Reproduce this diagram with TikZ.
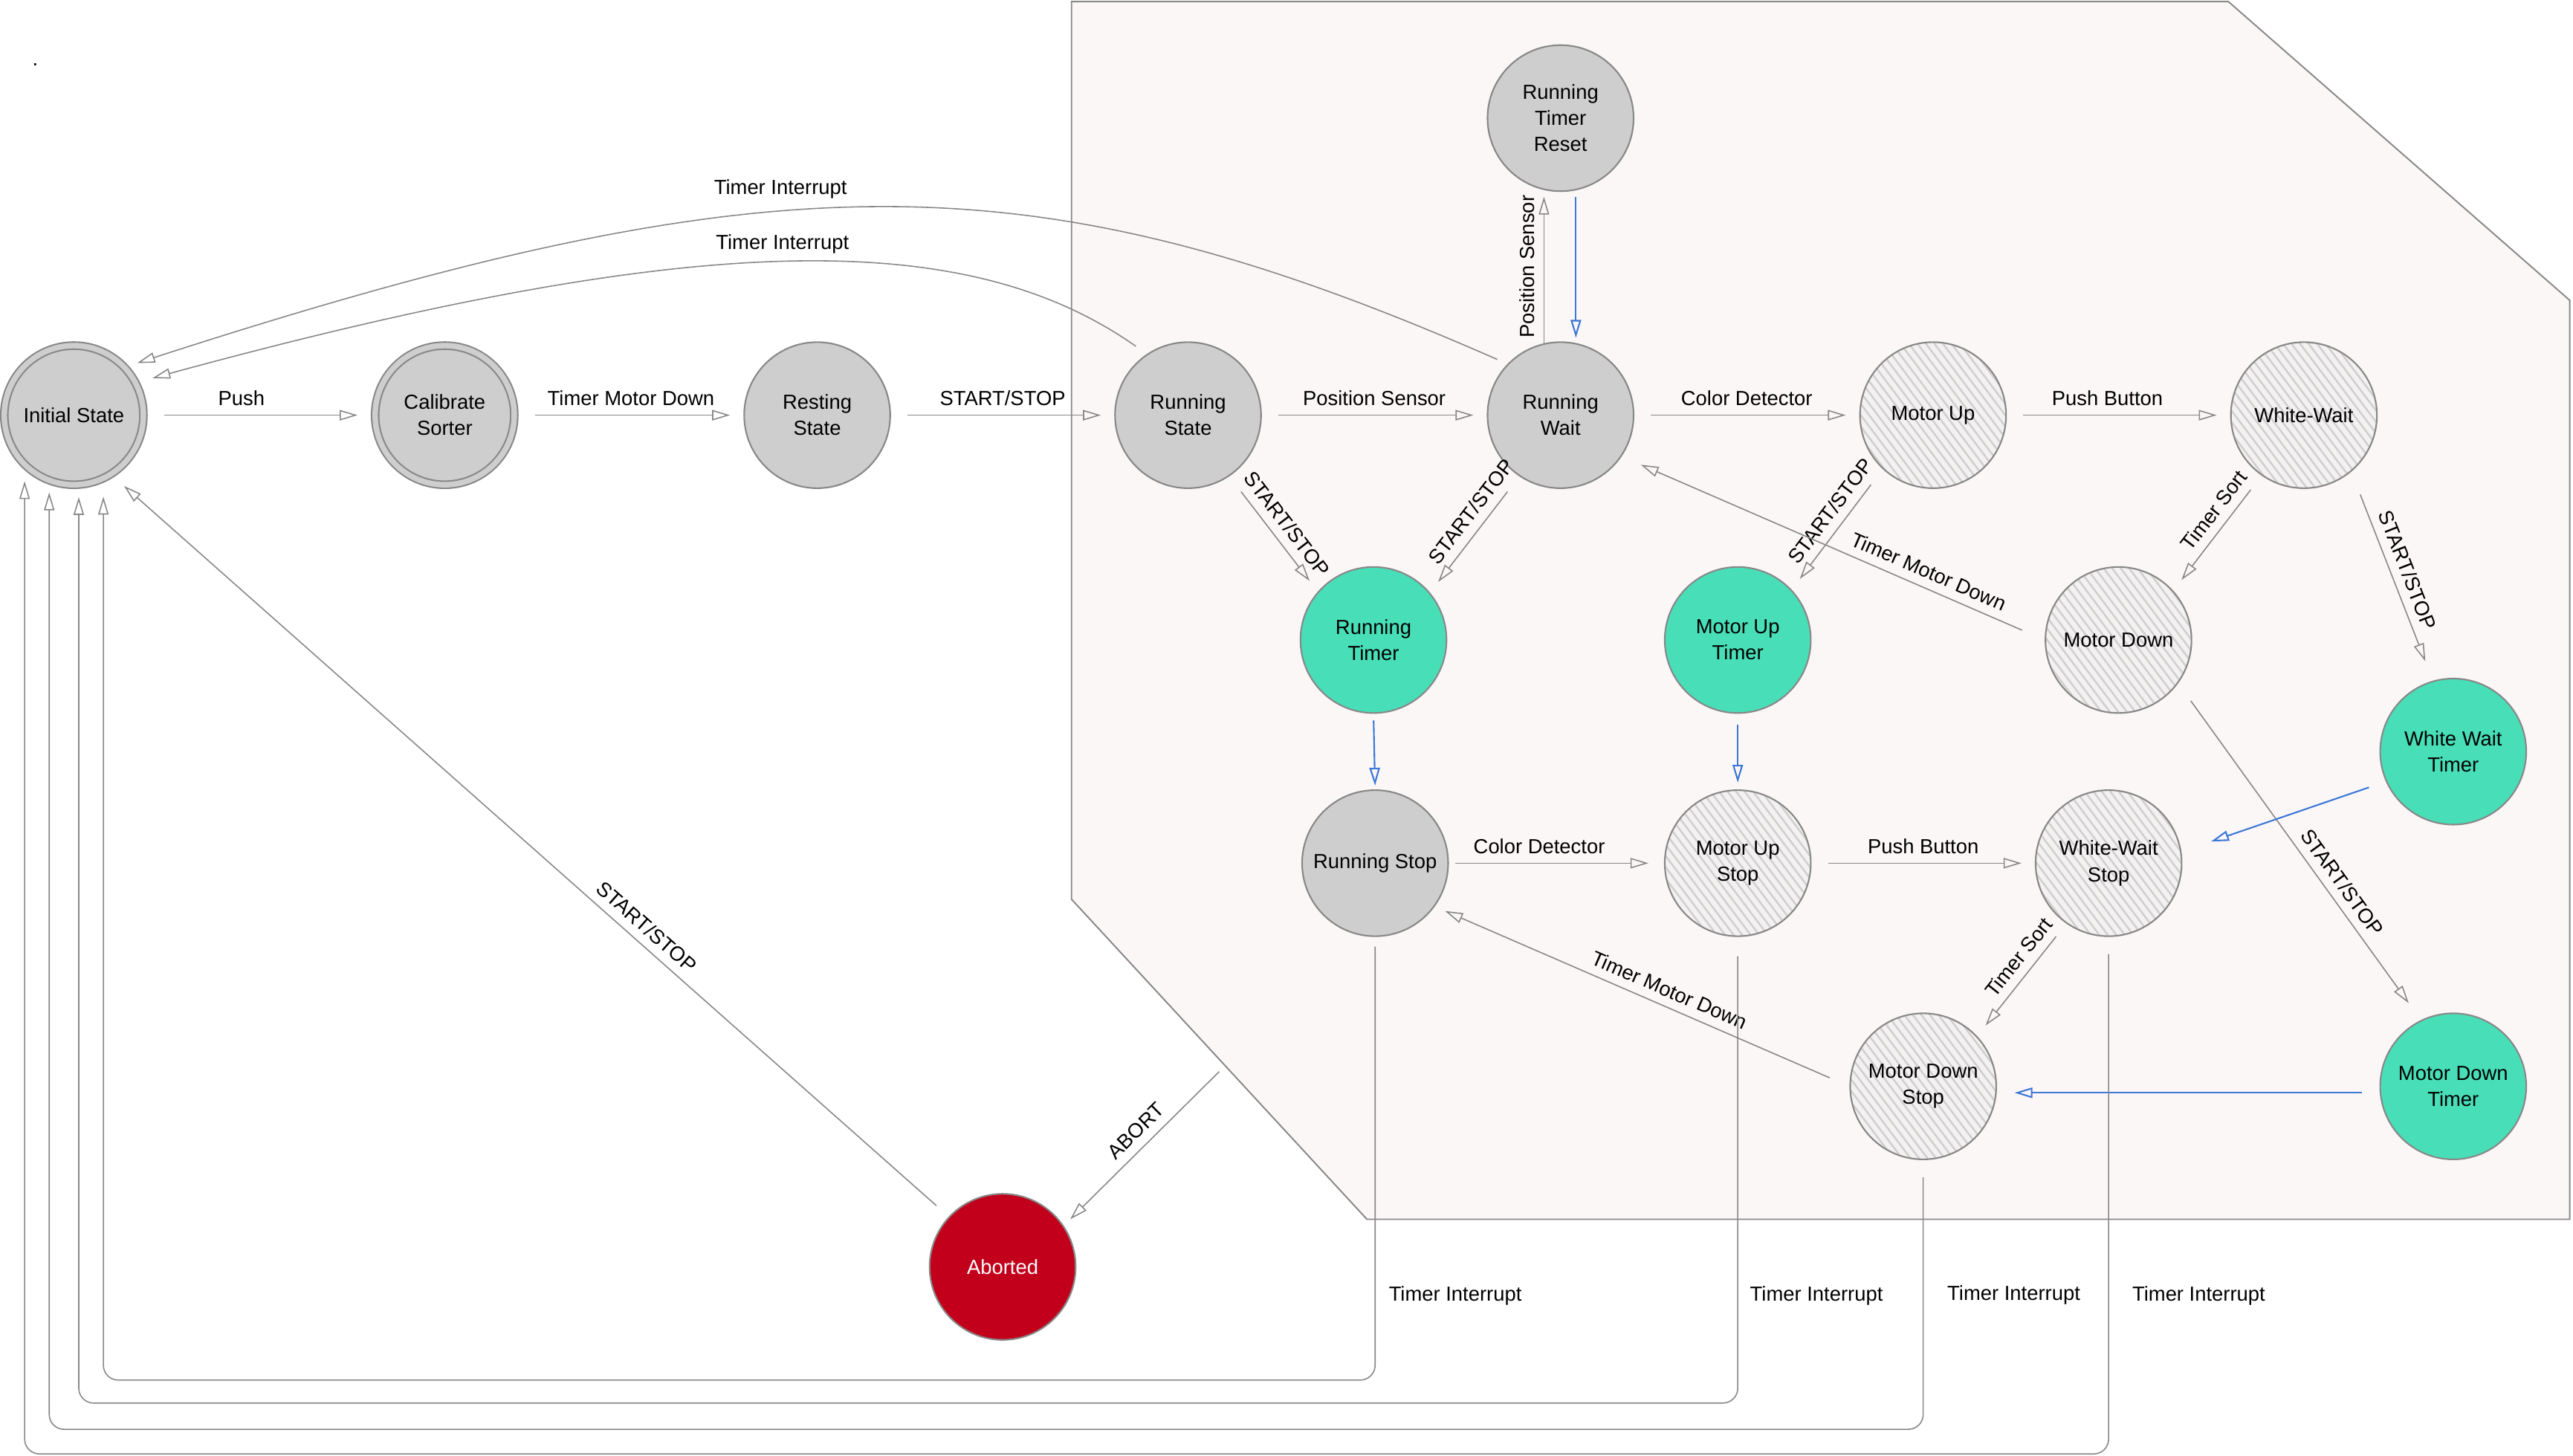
\documentclass[tikz,border=0pt]{standalone}
\usepackage{fontspec}
\setmainfont{Liberation Sans}
\usetikzlibrary{arrows.meta,patterns.meta}
\definecolor{lineGray}{HTML}{888888}
\definecolor{stateGray}{HTML}{CECECE}
\definecolor{timerTeal}{HTML}{48DFB8}
\definecolor{abortRed}{HTML}{C2001B}
\definecolor{clusterPink}{HTML}{FCF7F7}
\definecolor{hatchBack}{HTML}{F3F1F1}
\definecolor{hatchLine}{HTML}{D2CECE}
\definecolor{stopBlue}{HTML}{3C78D8}

\begin{document}
\begin{tikzpicture}[x=0.02208cm, y=-0.02208cm,
    every node/.style={font=\fontsize{7.8}{10}\selectfont},
    state/.style={circle, draw=lineGray, line width=0.6pt, fill=stateGray,
                  minimum size=1.965cm, inner sep=0pt, align=center},
    initstate/.style={state, double=stateGray, double distance=0.074cm,
                      minimum size=1.872cm, outer sep=0.057cm},
    timer/.style={state, fill=timerTeal},
    hatched/.style={circle, draw=lineGray, line width=0.6pt, minimum size=1.965cm,
                    inner sep=0pt, align=center, preaction={fill=hatchBack},
                    pattern={Lines[angle=-53, distance=2.6pt, line width=0.7pt]},
                    pattern color=hatchLine},
    trans/.style={draw=lineGray, line width=0.45pt,
                  -{Triangle[open, length=0.24cm, width=0.14cm]},
                  shorten <=0.22cm, shorten >=0.18cm},
    timed/.style={trans, draw=stopBlue, line width=0.6pt},
    lbl/.style={above, sloped},
    tilbl/.style={anchor=west},
  ]
  \useasboundingbox (0,0) rectangle (1568,887);

  % Running cluster
  \draw[draw=lineGray, line width=0.55pt, fill=clusterPink]
    (653,1) -- (1358,1) -- (1566,183) -- (1566,743) -- (833,743) -- (653,548) -- cycle;
  \coordinate (clusterexit) at (743,653);

  \node (dot) at (21.5,39.6) {.};

  % Top row
  \node[initstate] (init) at (45,253) {Initial State};
  \node[initstate] (cal) at (271,253) {Calibrate\\Sorter};
  \node[state] (rest) at (498,253) {Resting\\State};
  \node[state] (runstate) at (724,253) {Running\\State};
  \node[state] (runwait) at (951,253) {Running\\Wait};
  \node[hatched] (motorup) at (1178,253) {Motor Up};
  \node[hatched] (whitewait) at (1404,253) {White-Wait};
  \node[state] (runreset) at (951,72) {Running\\Timer\\Reset};

  % Timers and stops
  \node[timer] (runtimer) at (837,390) {Running\\Timer};
  \node[timer] (uptimer) at (1059,390) {Motor Up\\Timer};
  \node[hatched] (motordown) at (1291,390) {Motor Down};
  \node[timer] (whitetimer) at (1495,458) {White Wait\\Timer};
  \node[state] (runstop) at (838,526) {Running Stop};
  \node[hatched] (upstop) at (1059,526) {Motor Up\\Stop};
  \node[hatched] (whitestop) at (1285,526) {White-Wait\\Stop};
  \node[hatched] (downstop) at (1172,662) {Motor Down\\Stop};
  \node[timer] (downtimer) at (1495,662) {Motor Down\\Timer};
  \node[state, fill=abortRed, text=white] (aborted) at (611,772) {Aborted};

  % Main sequence
  \draw[trans] (init.east) -- node[lbl, pos=0.42] {Push} (cal.west);
  \draw[trans] (cal.east) -- node[lbl] {Timer Motor Down} (rest.west);
  \draw[trans] (rest.east) -- node[lbl] {START/STOP} (runstate.west);
  \draw[trans] (runstate.east) -- node[lbl] {Position Sensor} (runwait.west);
  \draw[trans] (runwait.east) -- node[lbl] {Color Detector} (motorup.west);
  \draw[trans] (motorup.east) -- node[lbl, pos=0.45] {Push Button} (whitewait.west);
  \draw[trans, shorten <=0cm, shorten >=0.09cm]
    (runwait.103) -- node[lbl] {Position Sensor} (runreset.-103);
  \draw[timed, shorten <=0.09cm, shorten >=0.07cm] (runreset.-78) -- (runwait.78);

  % START/STOP into timers
  \draw[trans, shorten <=0.26cm] (runstate.-56) -- node[lbl, pos=0.5] {START/STOP} (runtimer.139);
  \draw[trans, shorten <=0.26cm] (runwait.-124) -- node[lbl, pos=0.39] {START/STOP} (runtimer.40);
  \draw[trans, shorten <=0.26cm] (motorup.-133) -- node[lbl, pos=0.43] {START/STOP} (uptimer.43);
  \draw[trans, shorten <=0.33cm, shorten >=0.28cm]
    (whitewait.-50) -- node[lbl, pos=0.5] {START/STOP} (whitetimer.106);
  \draw[trans, shorten <=0.29cm, shorten >=0.28cm]
    (motordown.-36) -- node[lbl, pos=0.62] {START/STOP} (downtimer.116);

  \draw[trans, shorten <=0.33cm, shorten >=0.28cm]
    (motordown.180) -- node[lbl, pos=0.29] {Timer Motor Down} (runwait.-34);
  \draw[trans, shorten <=0.24cm] (whitewait.-125) -- node[lbl, pos=0.39] {Timer Sort} (motordown.42);

  % Timers to stops
  \draw[timed, shorten <=0.09cm, shorten >=0.05cm] (runtimer.south) -- (runstop.north);
  \draw[timed, shorten <=0.15cm, shorten >=0.09cm] (uptimer.south) -- (upstop.north);
  \draw[timed, shorten <=0.24cm, shorten >=0.42cm] (whitetimer.204) -- (whitestop.9);
  \draw[timed, shorten <=0.24cm, shorten >=0.24cm] (downtimer.185) -- (downstop.-5);

  % Stop sequence
  \draw[trans, shorten <=0.08cm, shorten >=0.21cm]
    (runstop.east) -- node[lbl, pos=0.42] {Color Detector} (upstop.west);
  \draw[trans] (upstop.east) -- node[lbl] {Push Button} (whitestop.west);
  \draw[trans] (whitestop.-125) -- node[lbl, pos=0.39] {Timer Sort} (downstop.43);
  \draw[trans, shorten <=0.29cm, shorten >=0.15cm]
    (downstop.180) -- node[lbl, pos=0.45] {Timer Motor Down} (runstop.-36);

  % Back to the start
  \draw[trans, shorten <=0.15cm, shorten >=0.12cm]
    (runwait.136) .. controls (630,95) and (473,95) .. (init.42)
    node[above, pos=0.582, yshift=0.06cm] {Timer Interrupt};
  \draw[trans, shorten <=0.18cm, shorten >=0.18cm]
    (runstate.124) .. controls (590,139) and (428,139) .. (init.27)
    node[above, pos=0.505] {Timer Interrupt};
  \draw[trans] (aborted.137) -- node[lbl, pos=0.375] {START/STOP} (init.-57);
  \draw[trans, shorten <=0cm, shorten >=0.12cm]
    (clusterexit) -- node[lbl, pos=0.46] {ABORT} (aborted.34);

  \coordinate (tiRun) at (63,841);
  \coordinate (tiUp) at (48,855);
  \coordinate (tiDown) at (30,871);
  \coordinate (tiWhite) at (15,886);
  \draw[trans, rounded corners=0.2cm, shorten <=0.13cm, shorten >=0.19cm]
    (runstop.south) |- node[tilbl, pos=0.405, xshift=0.06cm] {Timer Interrupt}
    (tiRun) -- (tiRun |- init.-66);
  \draw[trans, rounded corners=0.2cm, shorten <=0.26cm, shorten >=0.11cm]
    (upstop.south) |- node[tilbl, pos=0.385, xshift=0.04cm] {Timer Interrupt}
    (tiUp) -- (tiUp |- init.-87);
  \draw[trans, rounded corners=0.2cm, shorten <=0.23cm, shorten >=0.1cm]
    (downstop.south) |- node[tilbl, pos=0.25, xshift=0.2cm] {Timer Interrupt}
    (tiDown) -- (tiDown |- init.-109);
  \draw[trans, rounded corners=0.2cm, shorten <=0.23cm, shorten >=0.15cm]
    (whitestop.south) |- node[tilbl, pos=0.347, xshift=0.194cm] {Timer Interrupt}
    (tiWhite) -- (tiWhite |- init.-132);
\end{tikzpicture}
\end{document}
